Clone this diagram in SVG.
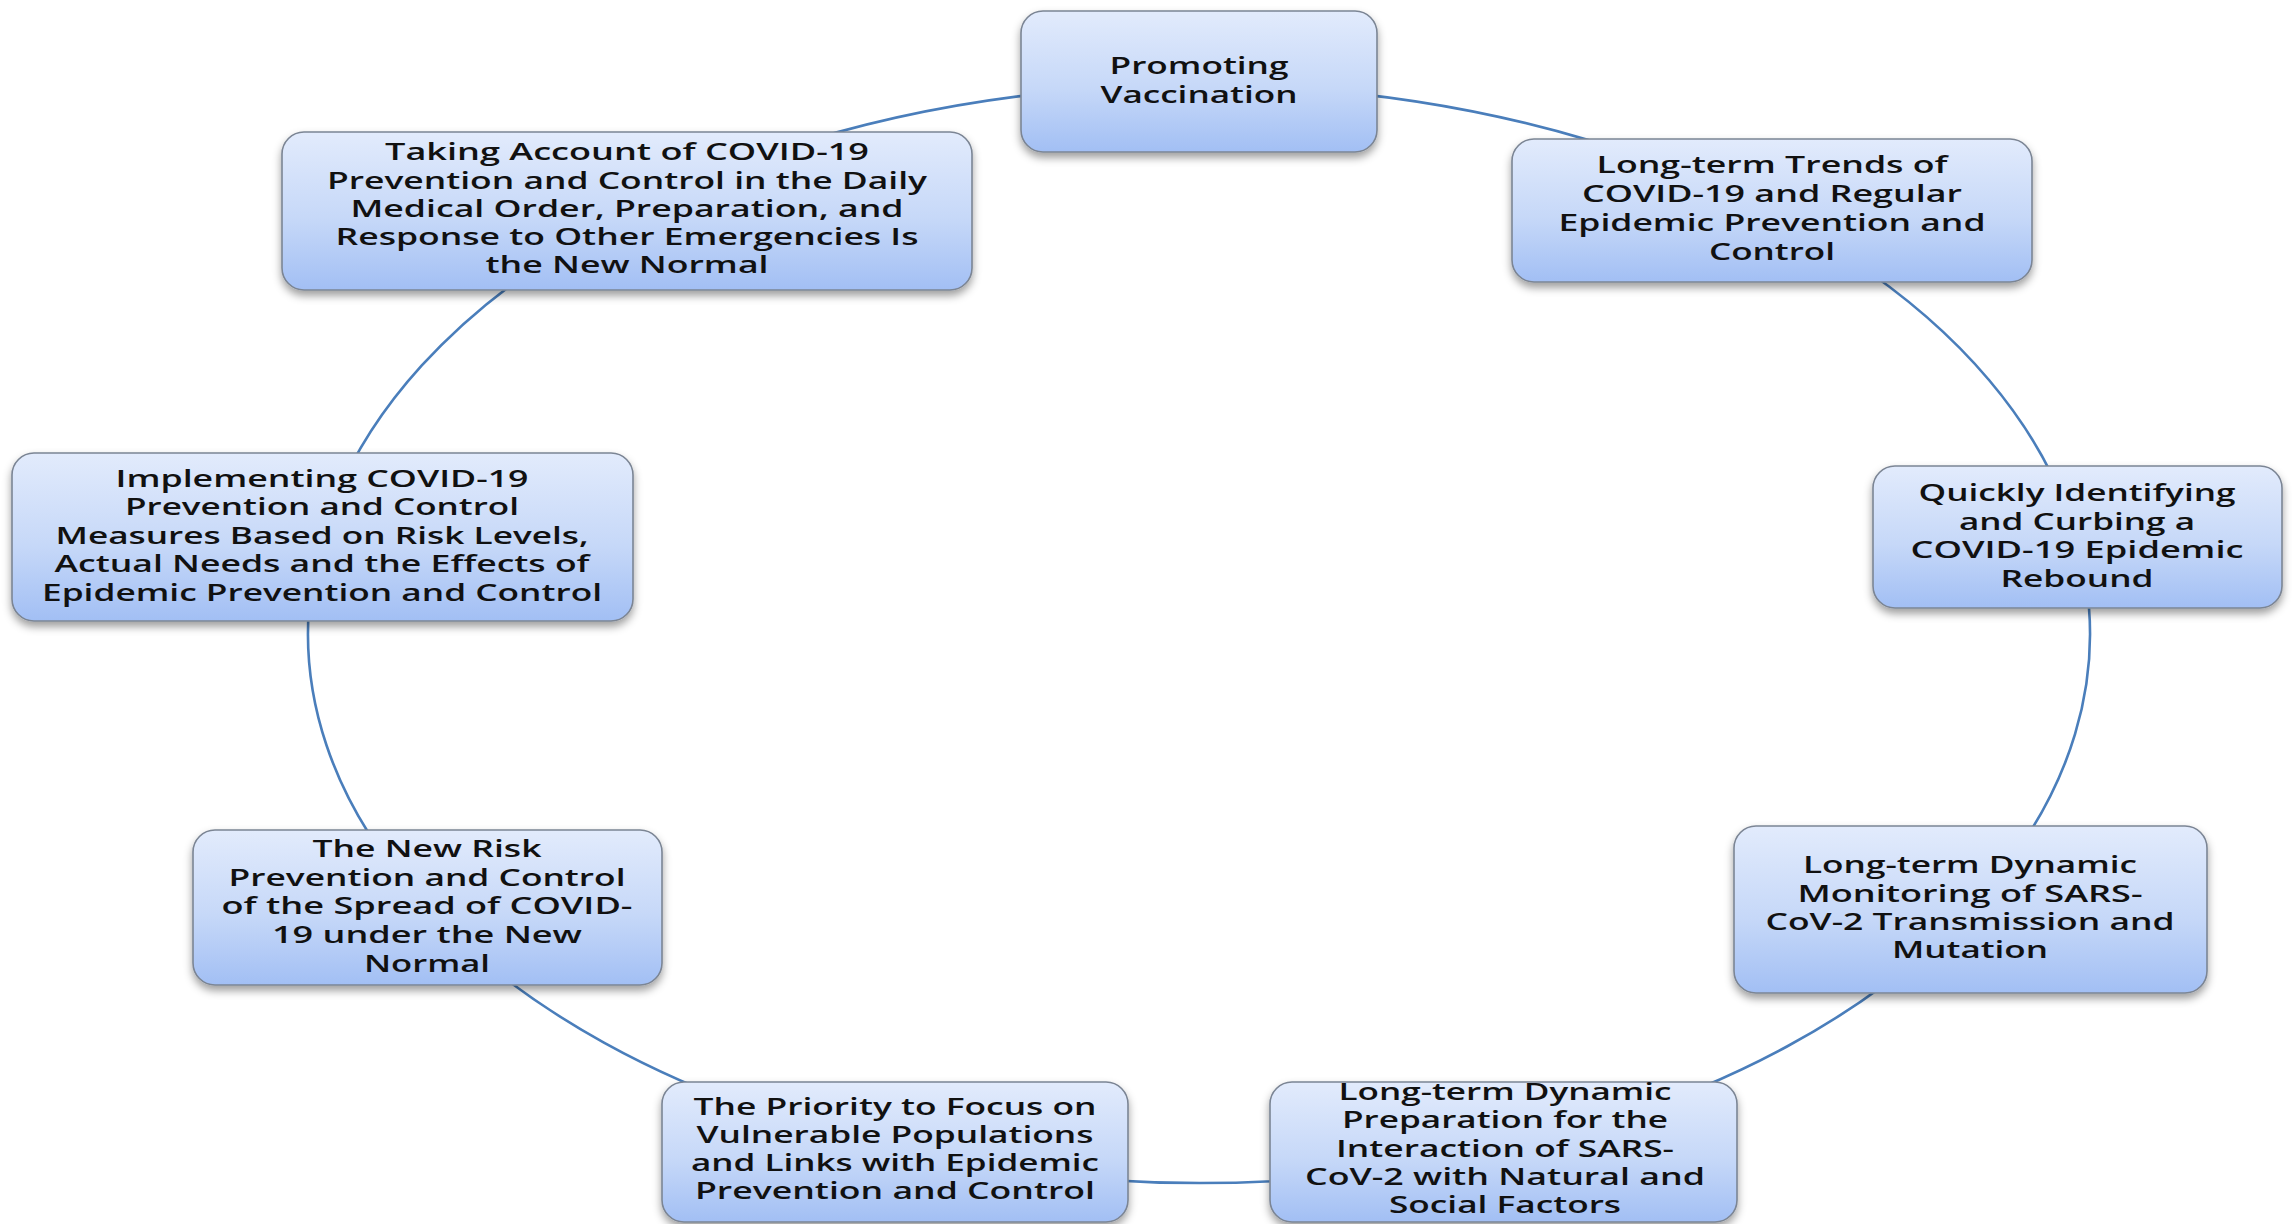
<svg xmlns="http://www.w3.org/2000/svg" width="2292" height="1224" viewBox="0 0 2292 1224">
<defs>
<linearGradient id="g" x1="0" y1="0" x2="0" y2="1">
<stop offset="0" stop-color="#e2ebfc"/>
<stop offset="0.55" stop-color="#c6d8f8"/>
<stop offset="1" stop-color="#a2bff4"/>
</linearGradient>
<filter id="sh" x="-10%" y="-10%" width="120%" height="130%">
<feDropShadow dx="0" dy="5" stdDeviation="4" flood-color="#000" flood-opacity="0.38"/>
</filter>
<style>
.box{fill:url(#g);stroke:#7b8594;stroke-width:1.6;filter:url(#sh)}
.t{font-family:"Open Sans","Noto Sans","DejaVu Sans",sans-serif;font-size:23px;font-weight:600;fill:#111;text-anchor:middle}
.c{fill:none;stroke:#4a7ebb;stroke-width:2.6}
</style>
</defs>
<rect width="2292" height="1224" fill="#fff"/>
<g id="connectors">
<path class="c" d="M1300 88.6 A891 549 0 0 1 1650 160.5"/>
<path class="c" d="M1850 259 A891 549 0 0 1 2070.6 520"/>
<path class="c" d="M2085.7 580 A891 549 0 0 1 1995.5 880"/>
<path class="c" d="M1927.6 950 A891 549 0 0 1 1613.5 1120"/>
<path class="c" d="M1400 1168.8 A891 549 0 0 1 1000 1168.9"/>
<path class="c" d="M800 1124.9 A891 549 0 0 1 450 931.3"/>
<path class="c" d="M419.6 900 A891 549 0 0 1 312.3 580"/>
<path class="c" d="M335 500 A891 549 0 0 1 562 250"/>
<path class="c" d="M780 149.5 A891 549 0 0 1 1100 88.4"/>
</g>
<g id="n1">
<rect class="box" x="1021" y="11" width="356" height="141" rx="22"/>
<text class="t" x="1199" y="74" textLength="179" lengthAdjust="spacingAndGlyphs">Promoting</text>
<text class="t" x="1199" y="103" textLength="197" lengthAdjust="spacingAndGlyphs">Vaccination</text>
</g>
<g id="n2">
<rect class="box" x="1512" y="139" width="520" height="143" rx="22"/>
<text class="t" x="1772" y="173" textLength="351" lengthAdjust="spacingAndGlyphs">Long-term Trends of</text>
<text class="t" x="1772" y="202" textLength="380" lengthAdjust="spacingAndGlyphs">COVID-19 and Regular</text>
<text class="t" x="1772" y="231" textLength="427" lengthAdjust="spacingAndGlyphs">Epidemic Prevention and</text>
<text class="t" x="1772" y="260" textLength="126" lengthAdjust="spacingAndGlyphs">Control</text>
</g>
<g id="n3">
<rect class="box" x="1873" y="466" width="409" height="142" rx="22"/>
<text class="t" x="2077" y="501" textLength="317" lengthAdjust="spacingAndGlyphs">Quickly Identifying</text>
<text class="t" x="2077" y="529.5" textLength="236" lengthAdjust="spacingAndGlyphs">and Curbing a</text>
<text class="t" x="2077" y="558" textLength="333" lengthAdjust="spacingAndGlyphs">COVID-19 Epidemic</text>
<text class="t" x="2077" y="586.5" textLength="153" lengthAdjust="spacingAndGlyphs">Rebound</text>
</g>
<g id="n4">
<rect class="box" x="1734" y="826" width="473" height="167" rx="22"/>
<text class="t" x="1970" y="873" textLength="334" lengthAdjust="spacingAndGlyphs">Long-term Dynamic</text>
<text class="t" x="1970" y="902" textLength="345" lengthAdjust="spacingAndGlyphs">Monitoring of SARS-</text>
<text class="t" x="1970" y="930" textLength="409" lengthAdjust="spacingAndGlyphs">CoV-2 Transmission and</text>
<text class="t" x="1970" y="958" textLength="156" lengthAdjust="spacingAndGlyphs">Mutation</text>
</g>
<g id="n5">
<rect class="box" x="1270" y="1082" width="467" height="140" rx="22"/>
<text class="t" x="1505" y="1100" textLength="333" lengthAdjust="spacingAndGlyphs">Long-term Dynamic</text>
<text class="t" x="1505" y="1128" textLength="326" lengthAdjust="spacingAndGlyphs">Preparation for the</text>
<text class="t" x="1505" y="1157" textLength="338" lengthAdjust="spacingAndGlyphs">Interaction of SARS-</text>
<text class="t" x="1505" y="1185" textLength="400" lengthAdjust="spacingAndGlyphs">CoV-2 with Natural and</text>
<text class="t" x="1505" y="1213" textLength="232" lengthAdjust="spacingAndGlyphs">Social Factors</text>
</g>
<g id="n6">
<rect class="box" x="662" y="1082" width="466" height="140" rx="22"/>
<text class="t" x="895" y="1115" textLength="403" lengthAdjust="spacingAndGlyphs">The Priority to Focus on</text>
<text class="t" x="895" y="1143" textLength="397" lengthAdjust="spacingAndGlyphs">Vulnerable Populations</text>
<text class="t" x="895" y="1171" textLength="408" lengthAdjust="spacingAndGlyphs">and Links with Epidemic</text>
<text class="t" x="895" y="1199" textLength="400" lengthAdjust="spacingAndGlyphs">Prevention and Control</text>
</g>
<g id="n7">
<rect class="box" x="193" y="830" width="469" height="155" rx="22"/>
<text class="t" x="427" y="857" textLength="229" lengthAdjust="spacingAndGlyphs">The New Risk</text>
<text class="t" x="427" y="886" textLength="397" lengthAdjust="spacingAndGlyphs">Prevention and Control</text>
<text class="t" x="427" y="914" textLength="411" lengthAdjust="spacingAndGlyphs">of the Spread of COVID-</text>
<text class="t" x="427" y="943" textLength="310" lengthAdjust="spacingAndGlyphs">19 under the New</text>
<text class="t" x="427" y="972" textLength="126" lengthAdjust="spacingAndGlyphs">Normal</text>
</g>
<g id="n8">
<rect class="box" x="12" y="453" width="621" height="168" rx="22"/>
<text class="t" x="322" y="487" textLength="413" lengthAdjust="spacingAndGlyphs">Implementing COVID-19</text>
<text class="t" x="322" y="515" textLength="394" lengthAdjust="spacingAndGlyphs">Prevention and Control</text>
<text class="t" x="322" y="544" textLength="533" lengthAdjust="spacingAndGlyphs">Measures Based on Risk Levels,</text>
<text class="t" x="322" y="572" textLength="535" lengthAdjust="spacingAndGlyphs">Actual Needs and the Effects of</text>
<text class="t" x="322" y="601" textLength="560" lengthAdjust="spacingAndGlyphs">Epidemic Prevention and Control</text>
</g>
<g id="n9">
<rect class="box" x="282" y="132" width="690" height="158" rx="22"/>
<text class="t" x="627" y="160" textLength="484" lengthAdjust="spacingAndGlyphs">Taking Account of COVID-19</text>
<text class="t" x="627" y="189" textLength="600" lengthAdjust="spacingAndGlyphs">Prevention and Control in the Daily</text>
<text class="t" x="627" y="217" textLength="553" lengthAdjust="spacingAndGlyphs">Medical Order, Preparation, and</text>
<text class="t" x="627" y="245" textLength="583" lengthAdjust="spacingAndGlyphs">Response to Other Emergencies Is</text>
<text class="t" x="627" y="273" textLength="283" lengthAdjust="spacingAndGlyphs">the New Normal</text>
</g>
</svg>
